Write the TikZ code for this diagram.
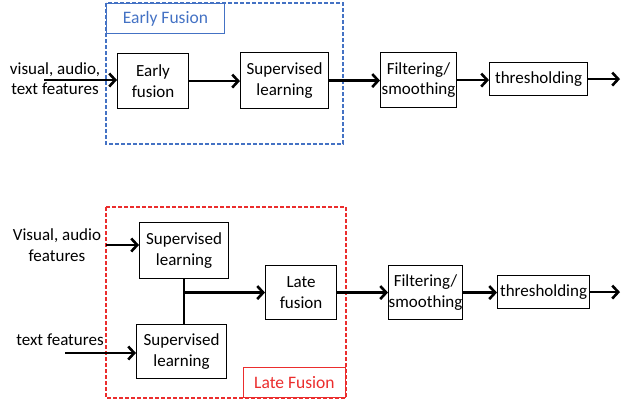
\documentclass[tikz,border=0pt]{standalone}
\usepackage{fontspec}
\setmainfont{Carlito}
\usetikzlibrary{arrows.meta}
\definecolor{earlyblue}{RGB}{68,114,196}
\definecolor{latered}{RGB}{235,45,45}
\begin{document}
\begin{tikzpicture}[x=1pt,y=-1pt,
  block/.style={draw,line width=1.1pt,align=center,inner sep=0pt,anchor=north west,font=\fontsize{17}{20.5}\selectfont},
  intext/.style={align=center,inner sep=0pt,font=\fontsize{17}{20.5}\selectfont},
  flow/.style={line width=2.6pt,-{Straight Barb[length=6pt,width=13pt]}},
  group/.style={line width=1.1pt,dash pattern=on 4pt off 2pt},
  grouplbl/.style={draw,line width=0.9pt,anchor=north west,inner sep=0pt,font=\fontsize{17.5}{20}\selectfont}]
\useasboundingbox (0,0) rectangle (621,405);
% early fusion
\draw[group,earlyblue] (106,3) rectangle (343,144);
\node[grouplbl,draw=earlyblue,text=earlyblue,minimum width=118pt,minimum height=30pt] (earlylbl) at (106,3) {Early Fusion};
\node[intext] (inall) at (55,78.5) {visual, audio,\\text features};
\coordinate (inallend) at (44,80);
\node[block,minimum width=71pt,minimum height=55pt] (early) at (117,53) {Early\\fusion};
\node[block,minimum width=88pt,minimum height=56pt] (supA) at (240,52) {Supervised\\learning};
\node[block,minimum width=76pt,minimum height=55pt] (filtA) at (380,52) {Filtering/\\smoothing};
\node[block,minimum width=98pt,minimum height=33pt] (threshA) at (489,62) {thresholding};
\coordinate (outA) at (620,79);
\draw[flow] (inallend) -- (inallend -| early.west);
\draw[flow] (early.east) -- (early.east -| supA.west);
\draw[flow] (supA.east) -- (supA.east -| filtA.west);
\draw[flow] (filtA.east) -- (filtA.east -| threshA.west);
\draw[flow] (threshA.east) -- (threshA.east -| outA);
% late fusion
\draw[group,latered] (106,207) rectangle (346,398);
\node[grouplbl,draw=latered,text=latered,minimum width=102pt,minimum height=30pt] (latelbl) at (243,367) {Late Fusion};
\node[intext] (invis) at (57,245) {Visual, audio\\features};
\node[intext] (intxt) at (60,340) {text features};
\coordinate (invisend) at (106,245);
\coordinate (intxtend) at (65,353);
\node[block,minimum width=89pt,minimum height=56pt] (supB) at (139,222) {Supervised\\learning};
\node[block,minimum width=90pt,minimum height=54pt] (supC) at (136,324) {Supervised\\learning};
\node[block,minimum width=71pt,minimum height=54pt] (late) at (265,265) {Late\\fusion};
\node[block,minimum width=74pt,minimum height=54pt] (filtB) at (388,265) {Filtering/\\smoothing};
\node[block,minimum width=92pt,minimum height=33pt] (threshB) at (497,275) {thresholding};
\coordinate (outB) at (620,291.5);
\draw[flow] (invisend) -- (invisend -| supB.west);
\draw[flow] (intxtend) -- (intxtend -| supC.west);
\draw[line width=2.6pt] (supB.south) -- (supB.south |- supC.north);
\draw[flow] (supB.south |- late.west) -- (late.west);
\draw[flow] (late.east) -- (late.east -| filtB.west);
\draw[flow] (filtB.east) -- (filtB.east -| threshB.west);
\draw[flow] (threshB.east) -- (threshB.east -| outB);
\end{tikzpicture}
\end{document}
